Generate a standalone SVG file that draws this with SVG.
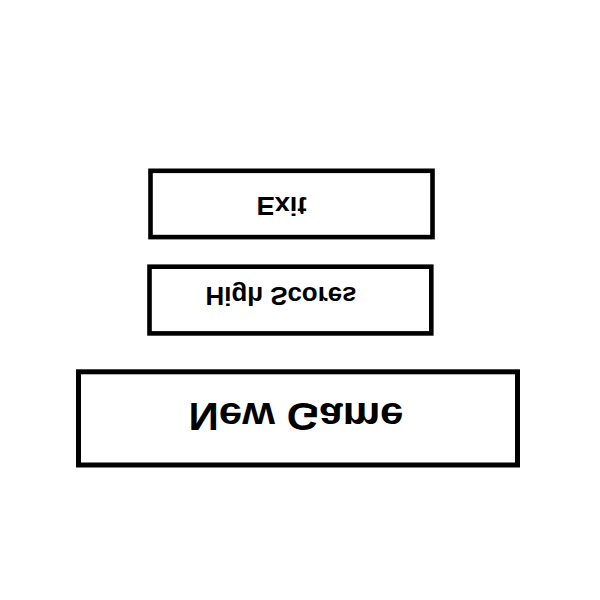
<svg xmlns="http://www.w3.org/2000/svg" width="600" height="600" viewBox="0 0 600 600">
<style>
.box{fill:#fff;stroke:#000;stroke-width:4.6}
.lbl{font-family:"Liberation Sans",Arial,sans-serif;font-weight:bold;fill:#000;text-anchor:middle}
</style>
<rect width="600" height="600" fill="#fff"/>
<g id="exit">
<rect class="box" x="150.5" y="170.8" width="282" height="66.3"/>
<text class="lbl" font-size="26" transform="translate(281.5,196.6) scale(1,-1)" textLength="50" lengthAdjust="spacingAndGlyphs">Exit</text>
</g>
<g id="high-scores">
<rect class="box" x="149.5" y="266.7" width="281.8" height="66.7"/>
<text class="lbl" font-size="26.5" transform="translate(281,286.8) scale(1,-1)" textLength="151" lengthAdjust="spacingAndGlyphs">High Scores</text>
</g>
<g id="new-game">
<rect class="box" x="78.5" y="371.8" width="439" height="93.2" style="stroke-width:5"/>
<text class="lbl" font-size="39" transform="translate(296,402.7) scale(1,-1)" textLength="215" lengthAdjust="spacingAndGlyphs">New Game</text>
</g>
<g id="connectors"/>
</svg>
